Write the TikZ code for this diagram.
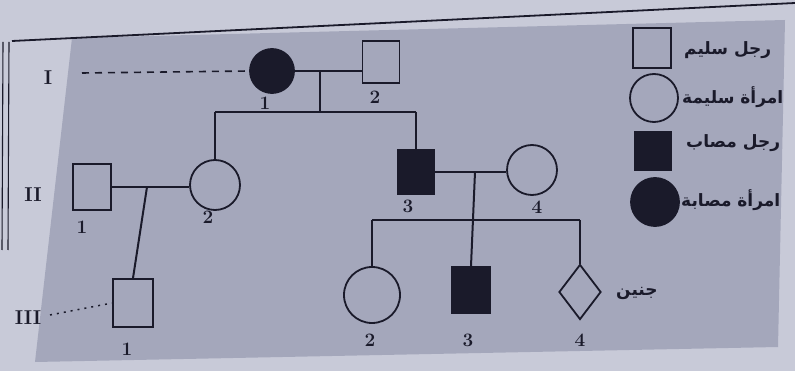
\documentclass[tikz,border=0pt]{standalone}
\usepackage{fontspec}
\newfontfamily\arabicfont[Script=Arabic]{DejaVu Sans}
\TeXXeTstate=1
\usetikzlibrary{shapes.geometric}
\definecolor{paper}{RGB}{200,202,216}
\definecolor{panel}{RGB}{164,167,187}
\definecolor{ink}{RGB}{26,26,42}
\begin{document}
\begin{tikzpicture}[x=1pt,y=-1pt,
  pline/.style={draw=ink,line width=2pt},
  male/.style={draw=ink,line width=1.8pt,rectangle,minimum width=38pt,minimum height=44pt,inner sep=0pt},
  female/.style={draw=ink,line width=1.8pt,circle,minimum size=50pt,inner sep=0pt},
  fetus/.style={draw=ink,line width=1.8pt,diamond,minimum width=42pt,minimum height=55pt,inner sep=0pt},
  affected/.style={fill=ink},
  num/.style={text=ink,font=\fontsize{19}{19}\selectfont\bfseries,inner sep=0pt},
  gen/.style={text=ink,font=\fontsize{20}{20}\selectfont\bfseries,inner sep=0pt},
  legtext/.style={text=ink,font=\arabicfont\fontsize{17}{17}\selectfont\bfseries,inner sep=0pt,anchor=west}]
\useasboundingbox (0,0) rectangle (795,371);
\fill[paper] (0,0) rectangle (795,371);
\fill[panel] (72,38) -- (785,20) -- (778,347) -- (35,362) -- cycle;
% outer frame
\draw[ink,line width=1.8pt] (12,41) -- (795,3);
\draw[ink,line width=1.1pt] (3,42) -- (2,250);
\draw[ink,line width=1.1pt] (9,42) -- (8,250);

% generation I
\node[female,affected,minimum size=44pt] (I1) at (272,71) {};
\node[male,minimum width=37pt,minimum height=42pt] (I2) at (381,62) {};
\node[num] (nI1) at (265,103) {1};
\node[num] (nI2) at (375,97) {2};
\node[gen] (gI) at (48,78) {I};
\coordinate (dI) at (82,73);
\draw[ink,line width=1.6pt,dash pattern=on 7pt off 6pt] (dI) -- (I1.west);

% generation II
\node[male,minimum height=46pt] (II1) at (92,187) {};
\node[female] (II2) at (215,185) {};
\node[male,affected,minimum width=37pt,minimum height=45pt] (II3) at (416,172) {};
\node[female] (II4) at (532,170) {};
\node[num] (nII1) at (82,227) {1};
\node[num] (nII2) at (208,217) {2};
\node[num] (nII3) at (408,206) {3};
\node[num] (nII4) at (537,207) {4};
\node[gen] (gII) at (33,195) {II};

% generation III
\node[male,minimum width=40pt,minimum height=48pt] (III1) at (133,303) {};
\node[female,minimum size=56pt] (III2) at (372,295) {};
\node[male,affected,minimum width=39pt,minimum height=46pt] (III3) at (471,290) {};
\node[fetus] (III4) at (580,292) {};
\node[num] (nIII1) at (127,349) {1};
\node[num] (nIII2) at (370,340) {2};
\node[num] (nIII3) at (468,340) {3};
\node[num] (nIII4) at (580,340) {4};
\node[gen] (gIII) at (28,318) {III};
\coordinate (dIII) at (50,315);
\draw[ink,line width=1.5pt,dash pattern=on 2pt off 5pt] (dIII) -- (III1.west);
\node[legtext] (fet) at (616,293) {\beginR جنين\endR};

% mating and sibship lines, generation I
\coordinate (mI) at (320,71);
\coordinate (sI) at (320,112);
\coordinate (sIa) at (215,112);
\coordinate (sIb) at (416,112);
\draw[pline] (I1.east) -- (I2.west |- I1.east);
\draw[pline] (mI) -- (sI);
\draw[pline] (sIa) -- (sIb);
\draw[pline] (sIa) -- (II2.north);
\draw[pline] (sIb) -- (II3.north);

% II1 x II2
\coordinate (mII) at (147,187);
\draw[pline] (II1.east) -- (II2.west |- II1.east);
\draw[pline] (mII) -- (III1.north);

% II3 x II4
\coordinate (mIIb) at (475,172);
\coordinate (sIIa) at (372,220);
\coordinate (sIIb) at (580,220);
\draw[pline] (II3.east) -- (II4.west |- II3.east);
\draw[pline] (mIIb) -- (III3.north);
\draw[pline] (sIIa) -- (sIIb);
\draw[pline] (sIIa) -- (III2.north);
\draw[pline] (sIIb) -- (III4.north);

% legend
\node[male,minimum width=38pt,minimum height=40pt] (L1) at (652,48) {};
\node[female,minimum size=48pt] (L2) at (654,98) {};
\node[male,affected,minimum width=37pt,minimum height=38pt] (L3) at (653,151) {};
\node[female,affected,minimum size=48pt] (L4) at (655,202) {};
\node[legtext] (T1) at (684,50) {\beginR رجل سليم\endR};
\node[legtext] (T2) at (682,97) {\beginR امرأة سليمة\endR};
\node[legtext] (T3) at (686,143) {\beginR رجل مصاب\endR};
\node[legtext] (T4) at (681,200) {\beginR امرأة مصابة\endR};
\end{tikzpicture}
\end{document}
